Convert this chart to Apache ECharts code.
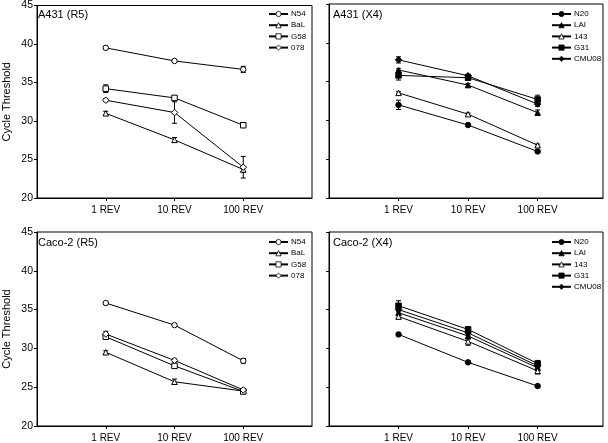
<!DOCTYPE html>
<html>
<head>
<meta charset="utf-8">
<script src="https://cdn.jsdelivr.net/npm/echarts@6/dist/echarts.min.js"></script>
<style>
html,body{margin:0;padding:0;background:#fff;}
#chart{width:608px;height:443px;}
</style>
</head>
<body>
<div id="chart"></div>
<script>
// ---- Data ----
const categories = ['1 REV', '10 REV', '100 REV'];
const panelTitles = ['A431 (R5)', 'A431 (X4)', 'Caco-2 (R5)', 'Caco-2 (X4)'];
const yAxisTitle = 'Cycle Threshold';
const r5Names = ['N54', 'BaL', 'G58', '078'];
const x4Names = ['N20', 'LAI', '143', 'G31', 'CMU08'];

// A431 (R5)
const a431R5_N54 = [39.5, 37.8, 36.7];
const a431R5_BaL = [31.0, 27.55, 23.7];
const a431R5_G58 = [34.2, 33.0, 29.45];
const a431R5_078 = [32.7, 31.1, 24.0];
const a431R5_N54_err = [0.1, 0.15, 0.4];
const a431R5_BaL_err = [0.25, 0.3, 0.35];
const a431R5_G58_err = [0.5, 0.2, 0.15];
const a431R5_078_err = [0.2, 1.4, 1.4];

// A431 (X4)
const a431X4_N20 = [32.0, 29.4, 26.0];
const a431X4_LAI = [36.5, 34.55, 31.0];
const a431X4_143 = [33.55, 30.8, 26.8];
const a431X4_G31 = [35.8, 35.5, 32.7];
const a431X4_CMU08 = [37.8, 35.75, 32.1];
const a431X4_N20_err = [0.6, 0.15, 0.1];
const a431X4_LAI_err = [0.15, 0.2, 0.35];
const a431X4_143_err = [0.15, 0.15, 0.15];
const a431X4_G31_err = [0.6, 0.3, 0.55];
const a431X4_CMU08_err = [0.4, 0.2, 0.3];

// Caco-2 (R5)
const caco2R5_N54 = [35.85, 33.0, 28.4];
const caco2R5_BaL = [29.5, 25.7, 24.5];
const caco2R5_G58 = [31.5, 27.75, 24.45];
const caco2R5_078 = [31.85, 28.45, 24.65];
const caco2R5_N54_err = [0.1, 0.1, 0.3];
const caco2R5_BaL_err = [0.2, 0.35, 0.2];
const caco2R5_G58_err = [0.3, 0.25, 0.25];
const caco2R5_078_err = [0.35, 0.2, 0.15];

// Caco-2 (X4)
const caco2X4_N20 = [31.8, 28.2, 25.15];
const caco2X4_LAI = [34.6, 31.6, 27.5];
const caco2X4_143 = [34.1, 30.9, 27.1];
const caco2X4_G31 = [35.5, 32.45, 28.05];
const caco2X4_CMU08 = [35.0, 32.0, 27.75];
const caco2X4_N20_err = [0.1, 0.1, 0.1];
const caco2X4_LAI_err = [0.3, 0.4, 0.3];
const caco2X4_143_err = [0.3, 0.5, 0.4];
const caco2X4_G31_err = [0.65, 0.3, 0.4];
const caco2X4_CMU08_err = [0.3, 0.3, 0.3];

// ---- Styles ----
const FONT = '"Liberation Sans", Arial, Helvetica, sans-serif';
const symbolStyles = {
  'N54':   {symbol: 'circle',   fill: '#fff'},
  'BaL':   {symbol: 'triangle', fill: '#fff'},
  'G58':   {symbol: 'rect',     fill: '#fff'},
  '078':   {symbol: 'diamond',  fill: '#fff'},
  'N20':   {symbol: 'circle',   fill: '#000'},
  'LAI':   {symbol: 'triangle', fill: '#000'},
  '143':   {symbol: 'triangle', fill: '#fff'},
  'G31':   {symbol: 'rect',     fill: '#000'},
  'CMU08': {symbol: 'diamond',  fill: '#000'}
};

const panels = [
  {names: r5Names, values: [a431R5_N54, a431R5_BaL, a431R5_G58, a431R5_078],
   errs: [a431R5_N54_err, a431R5_BaL_err, a431R5_G58_err, a431R5_078_err]},
  {names: x4Names, values: [a431X4_N20, a431X4_LAI, a431X4_143, a431X4_G31, a431X4_CMU08],
   errs: [a431X4_N20_err, a431X4_LAI_err, a431X4_143_err, a431X4_G31_err, a431X4_CMU08_err]},
  {names: r5Names, values: [caco2R5_N54, caco2R5_BaL, caco2R5_G58, caco2R5_078],
   errs: [caco2R5_N54_err, caco2R5_BaL_err, caco2R5_G58_err, caco2R5_078_err]},
  {names: x4Names, values: [caco2X4_N20, caco2X4_LAI, caco2X4_143, caco2X4_G31, caco2X4_CMU08],
   errs: [caco2X4_N20_err, caco2X4_LAI_err, caco2X4_143_err, caco2X4_G31_err, caco2X4_CMU08_err]}
];

const gridBoxes = [
  {left: 34, top: 4, width: 278, height: 194, xMax: 4},
  {left: 329, top: 4, width: 274, height: 194, xMax: 3.94},
  {left: 34, top: 232, width: 278, height: 194, xMax: 4},
  {left: 329, top: 232, width: 274, height: 194, xMax: 3.94}
];
const legendPos = [
  {left: 268, top: 10}, {left: 551, top: 10}, {left: 268, top: 238}, {left: 551, top: 238}
];

const grids = [], xAxes = [], yAxes = [], series = [], legends = [], titles = [];
const tickVals = categories.map((c, i) => i + 1);

gridBoxes.forEach((g, p) => {
  grids.push({left: g.left, top: g.top, width: g.width, height: g.height,
    show: true, borderColor: '#000', borderWidth: 1, backgroundColor: 'transparent', containLabel: false});
  xAxes.push({
    type: 'value', gridIndex: p, min: 0, max: g.xMax, interval: 1,
    axisLine: {show: true, lineStyle: {color: '#000', width: 1}},
    axisTick: {show: true, length: 3, lineStyle: {color: '#000'}, customValues: tickVals},
    axisLabel: {show: true, customValues: tickVals, margin: 7, color: '#000', fontSize: 10, fontFamily: FONT,
      formatter: v => categories[Math.round(v) - 1] || ''},
    splitLine: {show: false}
  });
  const leftCol = (p % 2 === 0);
  yAxes.push({
    type: 'value', gridIndex: p, min: 20, max: 45, interval: 5,
    axisLine: {show: true, lineStyle: {color: '#000', width: 1}},
    axisTick: {show: true, length: 3, lineStyle: {color: '#000'}},
    axisLabel: {show: leftCol, margin: 4, color: '#000', fontSize: 10.5, fontFamily: FONT},
    splitLine: {show: false},
    name: leftCol ? yAxisTitle : '',
    nameLocation: 'middle', nameGap: 25,
    nameTextStyle: {color: '#000', fontSize: 11, fontFamily: FONT}
  });
  titles.push({text: panelTitles[p], left: g.left + 4, top: g.top + 5, padding: 0,
    textStyle: {color: '#000', fontSize: 11, fontWeight: 'normal', fontFamily: FONT}});

  const pn = panels[p];
  pn.names.forEach((name, k) => {
    const st = symbolStyles[name];
    const vals = pn.values[k];
    const errs = pn.errs[k];
    series.push({
      type: 'custom', name: name + ' error', xAxisIndex: p, yAxisIndex: p, z: 2,
      silent: true,
      data: vals.map((v, i) => [i + 1, v, errs[i]]),
      encode: {x: 0, y: 1},
      renderItem: function (params, api) {
        const x = api.value(0), y = api.value(1), e = api.value(2);
        const top = api.coord([x, y + e]);
        const bot = api.coord([x, y - e]);
        const hw = 2.5;
        const ls = {stroke: '#000', lineWidth: 1};
        return {type: 'group', children: [
          {type: 'line', shape: {x1: top[0], y1: top[1], x2: bot[0], y2: bot[1]}, style: ls},
          {type: 'line', shape: {x1: top[0] - hw, y1: top[1], x2: top[0] + hw, y2: top[1]}, style: ls},
          {type: 'line', shape: {x1: bot[0] - hw, y1: bot[1], x2: bot[0] + hw, y2: bot[1]}, style: ls}
        ]};
      }
    });
    series.push({
      type: 'line', name: name, xAxisIndex: p, yAxisIndex: p, z: 3,
      data: vals.map((v, i) => [i + 1, v]),
      symbol: st.symbol, symbolSize: st.symbol === 'diamond' ? 6.5 : 5.5, showSymbol: true,
      lineStyle: {color: '#000', width: 1},
      itemStyle: {color: st.fill, borderColor: '#000', borderWidth: 1},
      emphasis: {disabled: true},
      animation: false
    });
  });
  legends.push({
    data: pn.names.map(n => ({name: n, itemStyle: {color: symbolStyles[n].fill, borderColor: '#000', borderWidth: 0.8}})),
    orient: 'vertical', left: legendPos[p].left, top: legendPos[p].top,
    padding: 0, itemWidth: 19, itemHeight: 6.5, itemGap: 3.2,
    selectedMode: false,
    textStyle: {color: '#000', fontSize: 8, lineHeight: 6, fontFamily: FONT, padding: [0, 0, 0, -2]}
  });
});

const chart = echarts.init(document.getElementById('chart'), null, {renderer: 'canvas'});
chart.setOption({
  animation: false,
  backgroundColor: '#fff',
  title: titles,
  grid: grids,
  xAxis: xAxes,
  yAxis: yAxes,
  legend: legends,
  series: series
});
</script>
</body>
</html>
